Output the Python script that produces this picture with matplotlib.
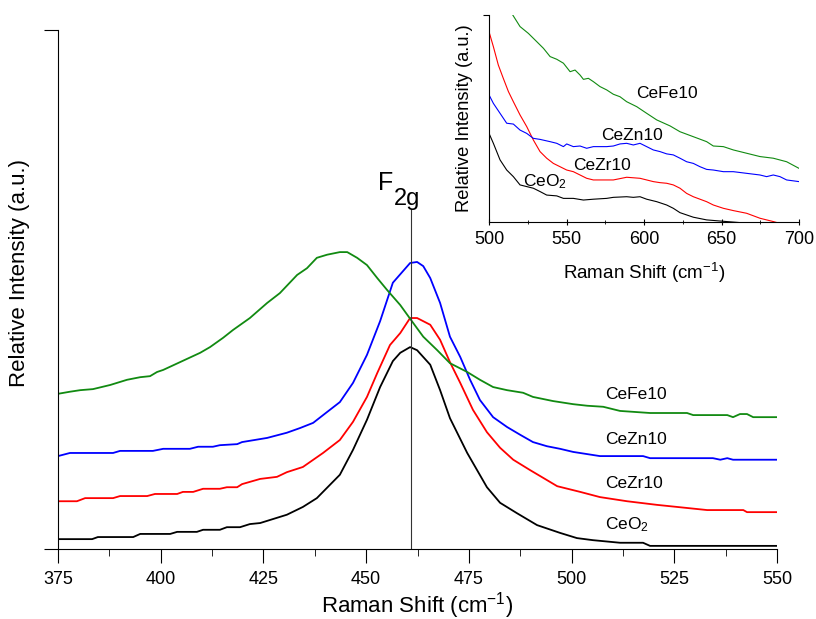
import matplotlib
matplotlib.use("Agg")
import matplotlib.pyplot as plt
from matplotlib.ticker import MultipleLocator

plt.rcParams['font.family'] = ['Liberation Sans', 'DejaVu Sans']
plt.rcParams['mathtext.fontset'] = 'custom'
plt.rcParams['mathtext.rm'] = 'Liberation Sans'
plt.rcParams['mathtext.it'] = 'Liberation Sans'

# --- main spectra (Raman shift in cm-1, relative intensity in a.u.) ---
ceo2_x = [375.0, 383.3, 384.7, 393.3, 395.0, 402.3, 404.0, 408.8, 410.3, 414.4, 416.1, 419.3,
          421.7, 424.2, 430.7, 434.6, 438.0, 443.6, 446.8, 450.2, 453.4, 456.5, 458.3, 460.7,
          462.4, 465.6, 468.0, 470.4, 474.6, 479.4, 482.6, 486.7, 491.6, 497.2, 501.3, 505.2,
          511.8, 517.4, 519.1, 550.0]
ceo2_y = [1.9, 1.9, 2.3, 2.3, 2.9, 2.9, 3.3, 3.3, 3.7, 3.7, 4.2, 4.2,
          4.8, 5.0, 6.6, 8.1, 9.8, 14.3, 19.1, 24.9, 31.2, 36.2, 37.8, 38.9,
          38.3, 35.5, 30.6, 25.2, 18.5, 11.9, 8.9, 6.9, 4.6, 3.1, 2.1, 1.7,
          1.2, 1.2, 0.6, 0.6]

cezr_x = [375.0, 379.6, 381.6, 388.4, 390.1, 396.7, 398.6, 404.0, 405.4, 407.9, 410.3, 414.4,
          416.1, 418.6, 419.8, 424.2, 428.3, 430.7, 434.6, 439.5, 443.6, 446.8, 450.2, 452.7,
          455.8, 458.3, 460.7, 462.4, 465.6, 468.0, 470.4, 472.9, 476.0, 479.4, 482.6, 485.8,
          489.9, 493.1, 496.5, 502.1, 506.9, 513.5, 520.8, 525.7, 533.0, 541.8, 542.7, 550.0]
cezr_y = [9.2, 9.2, 9.8, 9.8, 10.2, 10.2, 10.6, 10.6, 11.0, 11.0, 11.6, 11.6,
          11.9, 11.9, 12.5, 13.5, 13.9, 14.8, 15.8, 18.5, 21.0, 24.5, 29.3, 33.9,
          39.3, 41.6, 44.5, 44.5, 43.2, 40.3, 36.0, 32.0, 26.8, 22.5, 19.5, 17.2,
          15.2, 13.7, 12.1, 11.0, 10.0, 9.2, 8.5, 8.1, 7.5, 7.5, 7.1, 7.1]

cezn_x = [375.0, 377.9, 388.4, 390.1, 398.1, 400.6, 407.1, 409.1, 412.7, 414.4, 418.6, 419.8,
          425.9, 430.7, 433.9, 437.1, 440.5, 443.6, 446.8, 450.2, 453.4, 456.5, 460.7, 462.4,
          463.9, 465.6, 468.0, 470.4, 472.9, 475.3, 477.7, 480.9, 484.3, 487.5, 490.6, 494.0,
          497.2, 500.4, 506.9, 517.4, 519.1, 534.4, 536.2, 537.9, 539.3, 550.0]
cezn_y = [17.9, 18.5, 18.5, 18.9, 18.9, 19.3, 19.3, 19.7, 19.7, 20.0, 20.2, 20.6,
          21.4, 22.4, 23.3, 24.3, 26.4, 28.3, 32.0, 37.4, 43.9, 51.3, 55.1, 55.3,
          54.5, 52.2, 47.4, 40.9, 37.0, 32.6, 28.7, 25.4, 23.5, 22.0, 20.6, 19.8,
          19.3, 18.7, 17.9, 17.9, 17.5, 17.5, 17.2, 17.5, 17.2, 17.2]

cefe_x = [375.0, 377.9, 380.4, 383.5, 387.7, 391.8, 395.0, 397.4, 399.1, 400.6, 409.6, 412.0,
          415.2, 417.6, 421.7, 425.9, 429.0, 433.2, 435.6, 438.0, 440.5, 443.6, 445.4, 447.8,
          450.2, 452.7, 455.1, 458.3, 461.4, 463.9, 467.3, 470.4, 474.6, 477.7, 480.9, 484.3,
          488.2, 490.6, 495.5, 500.4, 503.8, 507.7, 511.8, 519.1, 528.1, 529.6, 537.9, 539.3,
          541.0, 542.7, 544.2, 550.0]
cefe_y = [29.9, 30.3, 30.6, 30.8, 31.6, 32.6, 33.1, 33.3, 34.1, 34.5, 37.8, 38.9,
          40.7, 42.2, 44.5, 47.4, 49.3, 52.8, 54.1, 56.1, 56.7, 57.2, 57.2, 56.1,
          54.7, 52.2, 49.9, 47.0, 43.6, 40.9, 38.3, 35.8, 34.1, 32.6, 31.2, 30.6,
          30.1, 29.3, 28.5, 27.9, 27.6, 27.4, 26.6, 26.2, 26.2, 25.8, 25.8, 25.4,
          26.0, 26.0, 25.4, 25.4]

# --- inset: 500-700 cm-1 region ---
in_cefe_x = [515.3, 520.0, 525.4, 530.8, 535.1, 539.4, 543.7, 548.0, 552.3, 555.5, 558.7, 560.9,
             564.1, 567.3, 571.6, 575.9, 580.2, 584.5, 588.8, 595.3, 601.7, 608.2, 616.8, 623.2,
             631.8, 640.4, 644.7, 651.2, 657.6, 666.2, 674.8, 683.4, 692.0, 700.0]
in_cefe_y = [100.0, 94.4, 91.1, 87.1, 83.9, 79.9, 78.6, 76.7, 72.6, 73.4, 71.0, 68.9,
             69.4, 67.8, 65.4, 63.8, 61.7, 60.5, 58.1, 55.7, 52.5, 49.3, 46.4, 43.6,
             41.2, 38.8, 36.7, 36.4, 34.8, 33.2, 31.6, 30.8, 29.1, 25.9]

in_cezn_x = [500.0, 502.8, 507.1, 511.4, 515.7, 520.0, 524.3, 528.6, 532.9, 539.4, 543.7, 548.0,
             550.1, 554.4, 558.7, 563.0, 567.3, 571.6, 575.9, 580.2, 584.5, 588.8, 593.1, 597.4,
             601.7, 606.0, 610.3, 614.6, 618.9, 623.2, 627.5, 631.8, 636.1, 640.4, 644.7, 651.2,
             657.6, 666.2, 674.8, 679.1, 683.4, 687.7, 692.0, 700.0]
in_cezn_y = [61.4, 57.3, 52.5, 47.7, 47.3, 44.4, 42.8, 40.4, 39.9, 38.8, 38.0, 36.4,
             37.7, 36.4, 36.7, 35.6, 36.4, 36.4, 36.4, 36.7, 37.7, 38.0, 37.2, 38.0,
             36.4, 34.8, 34.0, 32.9, 32.4, 30.8, 29.1, 28.3, 26.7, 25.4, 25.1, 24.3,
             24.3, 23.5, 22.7, 21.9, 22.7, 21.9, 20.3, 19.5]

in_cezr_x = [500.0, 502.8, 506.0, 509.2, 512.5, 515.7, 520.0, 524.3, 528.6, 532.9, 537.2, 541.5,
             545.8, 550.1, 554.4, 558.7, 563.0, 567.3, 575.9, 580.2, 588.8, 597.4, 601.7, 606.0,
             610.3, 614.6, 618.9, 623.2, 627.5, 631.8, 636.1, 640.4, 644.7, 651.2, 657.6, 666.2,
             674.8, 683.4, 692.0]
in_cezr_y = [91.9, 84.7, 75.8, 69.4, 63.0, 58.1, 51.7, 46.1, 39.6, 34.0, 30.8, 28.3,
             26.7, 25.1, 24.3, 22.7, 21.1, 20.3, 20.3, 20.3, 21.6, 21.1, 20.3, 19.5,
             19.0, 18.7, 17.9, 16.3, 13.8, 12.2, 11.0, 9.8, 8.2, 6.6, 5.5, 4.2,
             1.8, 0.2, -1.6]

in_ceo2_x = [500.0, 502.8, 507.1, 511.4, 515.7, 520.0, 524.3, 528.6, 532.9, 537.2, 543.7, 548.0,
             554.4, 560.9, 567.3, 575.9, 580.2, 588.8, 593.1, 597.4, 601.7, 608.2, 614.6, 618.9,
             623.2, 627.5, 631.8, 640.4, 653.3, 661.9, 670.5, 683.4]
in_ceo2_y = [42.8, 38.0, 30.0, 25.1, 21.9, 17.9, 17.1, 16.3, 14.7, 13.0, 12.6, 11.4,
             11.4, 10.6, 11.0, 11.4, 11.9, 12.2, 11.9, 12.2, 11.0, 9.8, 8.2, 6.6,
             4.5, 3.4, 2.3, 1.0, 0.2, -0.3, -1.0, -1.6]

names = ['CeO$_2$', 'CeZr10', 'CeZn10', 'CeFe10']
colors = ['black', '#ff0000', '#0000ff', '#118a11']
label_y = [4.6, 12.7, 21.0, 29.7]
inset_label_xy = [(522, 19.5), (554, 27.5), (572, 42.0), (595, 62.2)]
f2g_pos = 461


def main():
    fig = plt.figure(figsize=(8.16, 6.19), dpi=100)
    ax = fig.add_axes([0.0711, 0.1131, 0.8811, 0.8385])

    xs = [ceo2_x, cezr_x, cezn_x, cefe_x]
    ys = [ceo2_y, cezr_y, cezn_y, cefe_y]
    for x, y, c in zip(xs, ys, colors):
        ax.plot(x, y, color=c, lw=1.3)

    for name, yy in zip(names, label_y):
        ax.text(508.2, yy, name, fontsize=12.5, va='center', ha='left')

    ax.plot([f2g_pos, f2g_pos], [0, 65.5], color='#333333', lw=0.8)
    ax.text(456.6, 69.2, 'F', fontsize=18, ha='right', va='baseline')
    ax.text(456.8, 66.3, '2g', fontsize=17, ha='left', va='baseline')

    ax.set_xlim(375, 550)
    ax.set_ylim(0, 100)
    ax.spines['top'].set_visible(False)
    ax.spines['right'].set_visible(False)
    ax.xaxis.set_major_locator(MultipleLocator(25))
    ax.xaxis.set_minor_locator(MultipleLocator(12.5))
    ax.set_yticks([0, 100])
    ax.set_yticklabels([])
    ax.tick_params(axis='x', which='major', direction='out', length=10, labelsize=13, pad=6)
    ax.tick_params(axis='x', which='minor', direction='out', length=5)
    ax.tick_params(axis='y', direction='out', length=10)
    ax.set_xlabel('Raman Shift (cm$^{-1}$)', fontsize=16, labelpad=1)
    ax.set_ylabel('Relative Intensity (a.u.)', fontsize=16)
    ax.yaxis.set_label_coords(-0.039, 0.532)

    # inset
    ins = fig.add_axes([0.5993, 0.6414, 0.3799, 0.3344])
    ixs = [in_ceo2_x, in_cezr_x, in_cezn_x, in_cefe_x]
    iys = [in_ceo2_y, in_cezr_y, in_cezn_y, in_cefe_y]
    for x, y, c in zip(ixs, iys, colors):
        ins.plot(x, y, color=c, lw=0.8)
    for name, (lx, ly) in zip(names, inset_label_xy):
        ins.text(lx, ly, name, fontsize=12.5, va='center', ha='left')
    ins.set_xlim(500, 700)
    ins.set_ylim(0, 100)
    ins.spines['top'].set_visible(False)
    ins.spines['right'].set_visible(False)
    ins.xaxis.set_major_locator(MultipleLocator(50))
    ins.xaxis.set_minor_locator(MultipleLocator(25))
    ins.set_yticks([100])
    ins.set_yticklabels([])
    ins.tick_params(axis='x', which='major', direction='inout', length=5, labelsize=13, pad=4)
    ins.tick_params(axis='x', which='minor', direction='inout', length=3)
    ins.tick_params(axis='y', direction='out', length=4)
    ins.set_xlabel('Raman Shift (cm$^{-1}$)', fontsize=13.5, labelpad=9)
    ins.set_ylabel('Relative Intensity (a.u.)', fontsize=13.2, labelpad=4)

    fig.savefig('out.png', dpi=100)


if __name__ == '__main__':
    main()
